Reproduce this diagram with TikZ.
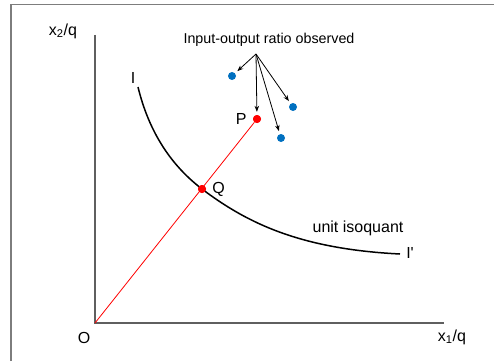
\documentclass[tikz,border=0pt]{standalone}
\usepackage{fontspec}
\setmainfont{Liberation Sans}
\usetikzlibrary{arrows.meta,positioning}
\definecolor{obsblue}{RGB}{0,112,192}
\definecolor{axisgray}{RGB}{95,95,95}
\definecolor{framegray}{RGB}{125,125,125}

\begin{document}
\begin{tikzpicture}[x=1pt,y=-1pt,
  lbl/.style={font=\fontsize{16}{18}\selectfont, inner sep=0pt},
  dot/.style={circle, fill=#1, minimum size=8pt, inner sep=0pt},
  obsarrow/.style={-{Stealth[length=6pt,width=4.5pt]}, shorten >=3pt, line width=0.8pt}]
\useasboundingbox (0,0) rectangle (494,361);
\draw[framegray, line width=1.5pt] (11,361) -- (11,4.5) -- (494,4.5);
\coordinate (orig) at (95,323);
\coordinate (ytop) at (95,35);
\coordinate (xend) at (444,323);
\draw[axisgray, line width=1.5pt] (ytop) -- (orig) -- (xend);
\node[lbl] (ylbl) at (63,31) {x\textsubscript{2}/q};
\node[lbl] (xlbl) at (452,337) {x\textsubscript{1}/q};
\node[lbl] (olbl) at (84,338) {O};
\node[dot=red] (P) at (257,119) {};
\node[dot=red] (Q) at (202,189) {};
\coordinate (istart) at (138,87);
\coordinate (iend) at (400,254);
\draw[line width=1.5pt] (istart) .. controls (148,128) and (168,163) .. (Q.center)
  .. controls (247,223) and (300,249) .. (iend);
\node[lbl] (ilbl) at (133,78) {I};
\node[lbl] (iplbl) at (410,253) {I\textquotesingle};
\node[lbl] (unit) at (358,228) {unit isoquant};
\draw[red, line width=0.8pt] (orig) -- (P);
\node[dot=red] at (P) {};
\node[dot=red] at (Q) {};
\node[lbl, left=6pt of P] (plbl) {P};
\node[lbl, right=6pt of Q] (qlbl) {Q};
\node[dot=obsblue] (b1) at (232,76) {};
\node[dot=obsblue] (b2) at (293,107) {};
\node[dot=obsblue] (b3) at (281,138) {};
\node[font=\fontsize{14.3}{16}\selectfont, inner sep=0pt] (title) at (269,40) {Input-output ratio observed};
\coordinate (src) at (256,54);
\draw[obsarrow] (src) -- (b1);
\draw[obsarrow] (src) -- (P);
\draw[obsarrow] (src) -- (b2);
\draw[obsarrow] (src) -- (b3);
\end{tikzpicture}
\end{document}
